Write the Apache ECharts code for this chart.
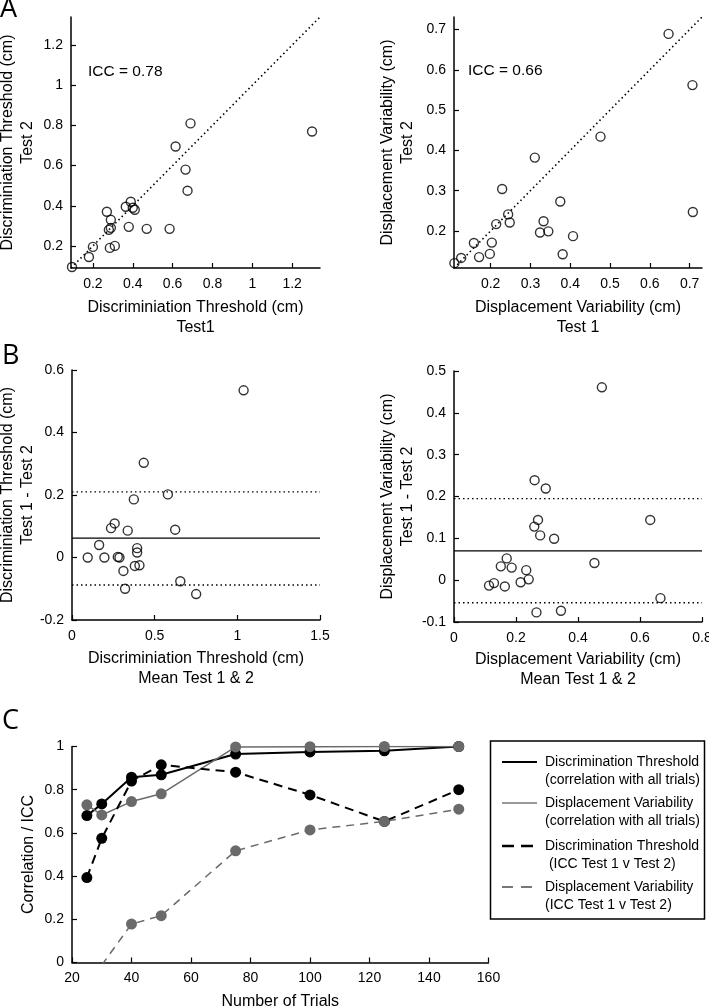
<!DOCTYPE html>
<html><head><meta charset="utf-8">
<script src="https://cdn.jsdelivr.net/npm/echarts@6/dist/echarts.min.js"></script>
<style>html,body{margin:0;padding:0;background:#fff}#c{width:709px;height:1007px}</style>
</head><body><div id="c"></div>
<script>
// ---------- Panel A (left): Discrimination threshold, Test1 vs Test2 ----------
const aDtTest1 = [0.095,0.2,0.18,0.27,0.29,0.28,0.29,0.285,0.31,0.365,0.39,0.4,0.41,0.38,0.47,0.585,0.615,0.665,0.675,0.69,1.3];
const aDtTest2 = [0.095,0.195,0.145,0.37,0.33,0.28,0.29,0.19,0.2,0.395,0.42,0.39,0.38,0.295,0.285,0.285,0.695,0.58,0.475,0.81,0.77];
const aDtRange = [0.09, 1.34];
const aDtTicks = [0.2,0.4,0.6,0.8,1,1.2];
const aDtIcc = 'ICC = 0.78';
// ---------- Panel A (right): Displacement variability ----------
const aDvTest1 = [0.109,0.126,0.158,0.171,0.198,0.203,0.214,0.229,0.244,0.248,0.311,0.324,0.333,0.345,0.375,0.381,0.407,0.476,0.647,0.707,0.708];
const aDvTest2 = [0.12,0.133,0.17,0.135,0.143,0.171,0.217,0.304,0.241,0.221,0.382,0.196,0.224,0.199,0.273,0.142,0.187,0.434,0.689,0.562,0.247];
const aDvRange = [0.108, 0.731];
const aDvTicks = [0.2,0.3,0.4,0.5,0.6,0.7];
const aDvIcc = 'ICC = 0.66';
// ---------- Panel B (left): Bland-Altman discrimination threshold ----------
const bDtMean = [0.095,0.164,0.196,0.236,0.258,0.277,0.287,0.311,0.321,0.337,0.374,0.38,0.394,0.394,0.408,0.434,0.58,0.624,0.655,0.751,1.038];
const bDtDiff = [0,0.04,0,0.094,0.109,0.002,0,-0.043,-0.1,0.086,0.186,-0.027,0.03,0.016,-0.025,0.303,0.202,0.089,-0.076,-0.117,0.535];
const bDtBias = 0.062;
const bDtLimits = [-0.088, 0.21];
// ---------- Panel B (right): Bland-Altman displacement variability ----------
const bDvMean = [0.113,0.129,0.164,0.151,0.17,0.186,0.215,0.233,0.241,0.26,0.259,0.266,0.271,0.278,0.296,0.323,0.345,0.453,0.477,0.633,0.666];
const bDvDiff = [-0.013,-0.007,-0.015,0.033,0.052,0.03,-0.005,0.024,0.002,0.239,0.128,-0.077,0.144,0.107,0.219,0.099,-0.073,0.041,0.461,0.144,-0.043];
const bDvBias = 0.07;
const bDvLimits = [-0.054, 0.195];
// ---------- Panel C ----------
const cTrials = [25,30,40,50,75,100,125,150];
const cDtCorr = [0.68,0.734,0.858,0.869,0.965,0.975,0.98,1.0];
const cDvCorr = [0.73,0.683,0.745,0.781,0.998,0.999,1.0,1.0];
const cDtIcc  = [0.393,0.575,0.84,0.915,0.881,0.776,0.653,0.80];
const cDvIcc  = [null,-0.012,0.178,0.217,0.517,0.614,0.653,0.71];
const cNames = [
  'Discrimination Threshold\n(correlation with all trials)',
  'Displacement Variability\n(correlation with all trials)',
  'Discrimination Threshold\n (ICC Test 1 v Test 2)',
  'Displacement Variability\n(ICC Test 1 v Test 2)'
];

const FONT = 'Liberation Sans, Arial, Helvetica, sans-serif';
const zip = (a, b) => a.map((v, i) => [v, b[i]]);

function axis(type, gi, min, max, name, gap, extra) {
  const o = {
    type: 'value', gridIndex: gi, min: min, max: max,
    name: name, nameLocation: 'middle', nameGap: gap, nameMoveOverlap: false,
    nameTextStyle: {fontSize: 16, fontFamily: FONT, color: '#000', lineHeight: 20},
    axisLine: {show: true, onZero: false, lineStyle: {color: '#000', width: 1.5}},
    axisTick: {show: true, inside: true, length: 5, lineStyle: {color: '#000', width: 1.2}},
    axisLabel: {color: '#000', fontSize: 14, fontFamily: FONT, margin: type === 'x' ? 9 : 8},
    splitLine: {show: false}
  };
  if (type === 'y') o.nameRotate = 90;
  return Object.assign(o, extra || {});
}
function custom(ticks) {
  return {
    axisTick: {show: true, inside: true, length: 5, lineStyle: {color: '#000', width: 1.2}, customValues: ticks},
    axisLabel: {color: '#000', fontSize: 14, fontFamily: FONT, margin: 9, customValues: ticks}
  };
}
function customY(ticks) {
  const c = custom(ticks); c.axisLabel.margin = 8; return c;
}
const scatterStyle = {color: 'rgba(0,0,0,0)', borderColor: '#000', borderWidth: 1.4};
function scatter(i, data) {
  return {type: 'scatter', xAxisIndex: i, yAxisIndex: i, data: data, symbol: 'circle', symbolSize: 9,
          itemStyle: scatterStyle, silent: true, z: 3};
}
function refLine(i, p0, p1, type, width) {
  return {type: 'line', xAxisIndex: i, yAxisIndex: i, data: [p0, p1], showSymbol: false, symbol: 'none',
          lineStyle: {color: '#000', width: width, type: type}, silent: true, z: 2};
}

const grid = [
  {left: 71, top: 17, width: 249, height: 251},
  {left: 454, top: 17, width: 248, height: 251},
  {left: 72, top: 370, width: 248, height: 250},
  {left: 454, top: 371, width: 248, height: 251},
  {left: 72, top: 746.5, width: 416.5, height: 216}
].map(g => Object.assign(g, {containLabel: false, outerBoundsMode: 'none'}));

const xAxis = [
  axis('x', 0, aDtRange[0], aDtRange[1], 'Discriminiation Threshold (cm)\nTest1', 30, custom(aDtTicks)),
  axis('x', 1, aDvRange[0], aDvRange[1], 'Displacement Variability (cm)\nTest 1', 30, custom(aDvTicks)),
  axis('x', 2, 0, 1.5, 'Discriminiation Threshold (cm)\nMean Test 1 & 2', 29, {interval: 0.5}),
  axis('x', 3, 0, 0.8, 'Displacement Variability (cm)\nMean Test 1 & 2', 28, {interval: 0.2}),
  axis('x', 4, 20, 160, 'Number of Trials', 29, {interval: 20})
];
const yAxis = [
  axis('y', 0, aDtRange[0], aDtRange[1], 'Discriminiation Threshold (cm)\nTest 2', 33, customY(aDtTicks)),
  axis('y', 1, aDvRange[0], aDvRange[1], 'Displacement Variability (cm)\nTest 2', 36, customY(aDvTicks)),
  axis('y', 2, -0.2, 0.6, 'Discriminiation Threshold (cm)\nTest 1 - Test 2', 34, {interval: 0.2}),
  axis('y', 3, -0.1, 0.5, 'Displacement Variability (cm)\nTest 1 - Test 2', 36, {interval: 0.1}),
  axis('y', 4, 0, 1, 'Correlation / ICC', 33, {interval: 0.2})
];

const gray = '#6a6a6a';
function cLine(vals, color, width, dash, name) {
  return {type: 'line', name: name, xAxisIndex: 4, yAxisIndex: 4, data: zip(cTrials, vals),
          symbol: 'circle', symbolSize: 11, showSymbol: true, clip: true, connectNulls: false,
          lineStyle: {color: color, width: width, type: dash}, itemStyle: {color: color}, silent: true, z: 3};
}

const series = [
  refLine(0, [aDtRange[0], aDtRange[0]], [aDtRange[1], aDtRange[1]], [1.5, 3], 1.6),
  scatter(0, zip(aDtTest1, aDtTest2)),
  refLine(1, [aDvRange[0], aDvRange[0]], [aDvRange[1], aDvRange[1]], [1.5, 3], 1.6),
  scatter(1, zip(aDvTest1, aDvTest2)),
  refLine(2, [0, bDtBias], [1.5, bDtBias], 'solid', 1.3),
  refLine(2, [0, bDtLimits[0]], [1.5, bDtLimits[0]], [1.5, 3], 1.3),
  refLine(2, [0, bDtLimits[1]], [1.5, bDtLimits[1]], [1.5, 3], 1.3),
  scatter(2, zip(bDtMean, bDtDiff)),
  refLine(3, [0, bDvBias], [0.8, bDvBias], 'solid', 1.3),
  refLine(3, [0, bDvLimits[0]], [0.8, bDvLimits[0]], [1.5, 3], 1.3),
  refLine(3, [0, bDvLimits[1]], [0.8, bDvLimits[1]], [1.5, 3], 1.3),
  scatter(3, zip(bDvMean, bDvDiff)),
  cLine(cDtCorr, '#000', 2, 'solid', cNames[0]),
  cLine(cDvCorr, gray, 1.5, 'solid', cNames[1]),
  cLine(cDtIcc, '#000', 2, [9, 6], cNames[2]),
  cLine(cDvIcc, gray, 1.5, [8, 6], cNames[3])
];

const LETTER = 'Open Sans, Lato, sans-serif';
const legendX = 490.5, legendY = 741;
const legendRows = [762, 803, 846, 887];
const legendStyles = [
  {color: '#000', width: 2, dash: null},
  {color: '#777', width: 1.5, dash: null},
  {color: '#000', width: 2.5, dash: [12, 7]},
  {color: '#777', width: 1.8, dash: [11, 8]}
];
const graphic = [
  {type: 'text', left: 0, top: -4, style: {text: 'A', font: '27px ' + LETTER, fill: '#000'}},
  {type: 'text', left: 2, top: 343, style: {text: 'B', font: '27px ' + LETTER, fill: '#000'}},
  {type: 'text', left: 2, top: 708, style: {text: 'C', font: '27px ' + LETTER, fill: '#000'}},
  {type: 'text', left: 88, top: 64, style: {text: aDtIcc, font: '15.5px ' + FONT, fill: '#000'}},
  {type: 'text', left: 468, top: 63, style: {text: aDvIcc, font: '15.5px ' + FONT, fill: '#000'}},
  {type: 'rect', shape: {x: legendX, y: legendY, width: 214, height: 178},
   style: {fill: '#fff', stroke: '#000', lineWidth: 1.5}, z: 10}
];
legendRows.forEach((y, i) => {
  const s = legendStyles[i];
  graphic.push({type: 'line', shape: {x1: 502, y1: y, x2: 537, y2: y},
    style: {stroke: s.color, lineWidth: s.width, lineDash: s.dash}, z: 11});
  graphic.push({type: 'text', x: 545, y: y - 9,
    style: {text: cNames[i], font: '14px ' + FONT, fill: '#000', lineHeight: 18, verticalAlign: 'top', align: 'left'}, z: 11});
});

const chart = echarts.init(document.getElementById('c'), null, {renderer: 'canvas'});
chart.setOption({
  animation: false,
  backgroundColor: '#fff',
  grid: grid, xAxis: xAxis, yAxis: yAxis, series: series, graphic: graphic
});
</script></body></html>
